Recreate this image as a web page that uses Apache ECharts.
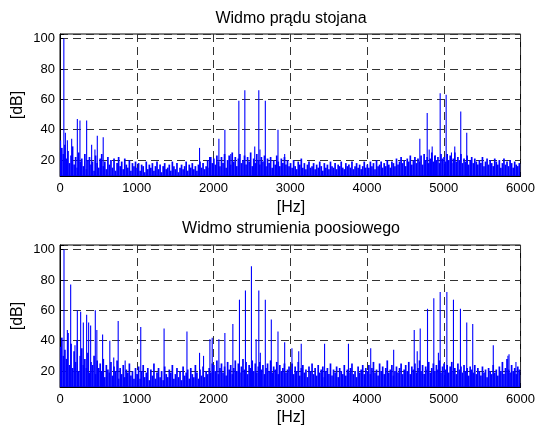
<!DOCTYPE html>
<html>
<head>
<meta charset="utf-8">
<script src="https://cdn.jsdelivr.net/npm/echarts@6/dist/echarts.min.js"></script>
<style>
  html, body { margin: 0; padding: 0; background: #fff; }
  #chart { width: 538px; height: 427px; }
</style>
</head>
<body>
<div id="chart"></div>
<script>
// widmo: szum w binach co 20 Hz + wyrazne prazki
var binStepHz = 20;
var xTicksHz = [0, 1000, 2000, 3000, 4000, 5000, 6000];
var yTicksDb = [20, 40, 60, 80, 100];

// Widmo pradu stojana - tlo szumowe [dB]
var noiseStator = [
  33, 28, 24, 30, 21, 26, 18, 23, 29, 17, 22, 15, 25, 19, 21, 16, 24, 14, 20, 22, 17, 19, 13, 23, 18, 15, 21, 24, 16, 19, 14, 22, 17, 20, 15, 21, 13, 18, 22, 16, 19, 14, 21, 17, 15, 20, 13, 18, 16, 19,
  15, 18, 13, 17, 16, 12, 19, 14, 17, 15, 18, 13, 16, 19, 14, 17, 12, 16, 18, 14, 15, 17, 13, 19, 16, 14, 18, 12, 15, 17, 14, 16, 19, 13, 17, 15, 18, 14, 16, 13, 17, 19, 15, 18, 14, 16, 20, 15, 22, 18,
  21, 17, 23, 19, 16, 22, 18, 24, 15, 20, 23, 17, 25, 19, 22, 16, 21, 24, 18, 20, 23, 17, 22, 19, 25, 16, 21, 18, 24, 20, 17, 22, 19, 23, 16, 21, 18, 22, 15, 20, 17, 23, 19, 16, 21, 18, 22, 17, 20, 16,
  18, 15, 20, 16, 14, 19, 17, 21, 15, 18, 14, 17, 19, 15, 16, 18, 14, 17, 15, 19, 16, 13, 18, 15, 17, 14, 19, 16, 15, 18, 14, 17, 16, 19, 15, 14, 18, 16, 17, 15, 19, 14, 16, 18, 15, 17, 14, 16, 19, 15,
  17, 15, 19, 16, 18, 14, 20, 16, 17, 19, 15, 18, 16, 20, 17, 15, 19, 18, 16, 21, 17, 19, 22, 18, 20, 16, 21, 19, 23, 17, 20, 22, 18, 21, 19, 23, 17, 24, 20, 22, 18, 21, 25, 19, 23, 20, 22, 18, 24, 21,
  22, 19, 24, 20, 23, 18, 21, 25, 19, 22, 20, 24, 18, 21, 19, 23, 17, 20, 22, 18, 21, 19, 17, 20, 18, 22, 16, 19, 21, 17, 20, 18, 16, 21, 19, 17, 20, 15, 18, 21, 17, 19, 16, 20, 18, 15, 19, 17, 16, 18
];
var peaksStatorHz = [50, 70, 96, 152, 226, 260, 347, 412, 455, 486, 563, 1818, 1948, 2070, 2148, 2225, 2330, 2408, 2537, 2590, 2605, 2675, 2840, 2927, 4688, 4784, 4810, 4849, 4890, 4953, 5031, 5100, 5143, 5221, 5299];
var peaksStatorDb = [100, 38, 33, 34, 47, 46, 46, 30, 27, 36, 35, 28, 22, 34, 40, 24, 59, 66, 29, 66, 27, 59, 40, 24, 34, 51, 27, 29, 23, 64, 63, 25, 29, 52, 38];

// Widmo strumienia poosiowego - tlo szumowe [dB]
var noiseFlux = [
  36, 42, 30, 34, 28, 45, 24, 38, 22, 33, 26, 40, 20, 30, 35, 24, 28, 22, 32, 19, 26, 24, 30, 18, 27, 22, 25, 20, 28, 16, 24, 21, 19, 26, 17, 23, 20, 27, 15, 22, 18, 24, 16, 21, 19, 25, 17, 20, 15, 22,
  18, 23, 15, 20, 24, 16, 19, 22, 14, 21, 17, 25, 15, 19, 22, 16, 20, 14, 23, 18, 16, 21, 19, 24, 15, 18, 22, 16, 20, 14, 23, 17, 19, 21, 15, 22, 18, 16, 24, 19, 15, 21, 17, 23, 16, 20, 18, 22, 19, 25,
  24, 20, 27, 18, 22, 25, 19, 23, 17, 26, 21, 24, 18, 22, 27, 20, 25, 19, 23, 28, 21, 26, 18, 24, 22, 27, 20, 25, 19, 23, 26, 21, 24, 18, 22, 25, 20, 27, 19, 23, 21, 26, 18, 24, 20, 22, 25, 19, 21, 23,
  21, 25, 18, 23, 20, 26, 17, 22, 24, 19, 21, 16, 23, 20, 25, 18, 22, 17, 24, 19, 21, 23, 16, 20, 22, 18, 25, 17, 21, 19, 23, 16, 22, 20, 18, 24, 17, 21, 19, 22, 25, 18, 20, 16, 23, 19, 21, 24, 18, 22,
  20, 24, 18, 22, 26, 19, 21, 17, 25, 20, 23, 18, 22, 27, 19, 21, 24, 17, 20, 23, 19, 22, 25, 18, 21, 24, 20, 26, 18, 23, 21, 25, 19, 22, 27, 20, 24, 18, 23, 21, 26, 19, 22, 25, 20, 24, 21, 27, 19, 23,
  25, 21, 24, 19, 23, 26, 20, 22, 18, 25, 21, 23, 19, 24, 20, 22, 17, 23, 21, 19, 24, 18, 22, 20, 17, 23, 19, 21, 16, 22, 20, 18, 24, 19, 21, 17, 23, 20, 26, 18, 22, 28, 21, 19, 24, 20, 22, 18, 23, 21
];
var peaksFluxHz = [20, 52, 96, 139, 195, 226, 269, 304, 347, 373, 399, 460, 480, 555, 649, 700, 758, 849, 1052, 1356, 1654, 1818, 1870, 1953, 1983, 2070, 2148, 2252, 2338, 2416, 2494, 2555, 2590, 2610, 2675, 2753, 2840, 2927, 3022, 3110, 3143, 3447, 3758, 4048, 4347, 4615, 4654, 4693, 4788, 4870, 4930, 4953, 5040, 5126, 5217, 5299, 5377, 5645, 5836, 5850, 5940];
var peaksFluxDb = [40, 100, 47, 77, 37, 60, 59, 52, 57, 52, 50, 60, 47, 44, 40, 29, 53, 27, 49, 48, 46, 32, 30, 41, 42, 41, 45, 51, 67, 73, 89, 41, 73, 32, 67, 54, 46, 39, 35, 33, 38, 38, 38, 35, 34, 47, 33, 48, 61, 68, 32, 72, 72, 67, 61, 52, 51, 37, 30, 31, 26];

function binsToPairs(vals) {
  return vals.map(function (v, i) { return [i * binStepHz, v]; });
}
function peaksToPairs(hz, db) {
  return hz.map(function (f, i) { return [f, db[i]]; });
}

var font = 'Liberation Sans, Arial, sans-serif';
var blue = '#0000ff';

function makeX(gridIndex) {
  return {
    type: 'value', gridIndex: gridIndex, min: 0, max: 6000, interval: 1000,
    axisLine: { lineStyle: { color: '#000', width: 1 } },
    axisTick: { inside: true, length: 4, lineStyle: { color: '#000' } },
    axisLabel: { color: '#000', fontSize: 13, fontFamily: font, margin: 6,
      formatter: function (v) { return xTicksHz.indexOf(v) >= 0 ? String(v) : ''; } },
    splitLine: { show: true, lineStyle: { color: '#333', type: [8, 5], width: 1 } }
  };
}
function makeY(gridIndex) {
  return {
    type: 'value', gridIndex: gridIndex, min: 9.5, max: 103, splitNumber: 5,
    axisLine: { show: true, lineStyle: { color: '#000', width: 1 } },
    axisTick: { show: true, inside: true, length: 4, lineStyle: { color: '#000' } },
    axisLabel: { color: '#000', fontSize: 13, fontFamily: font, margin: 5,
      formatter: function (v) { return yTicksDb.indexOf(v) >= 0 ? String(v) : ''; } },
    splitLine: { show: true, lineStyle: { color: '#333', type: [8, 5], width: 1 } }
  };
}
function barSeries(idx, data, w) {
  return {
    type: 'bar', xAxisIndex: idx, yAxisIndex: idx, data: data,
    barWidth: w, barGap: '-100%', clip: true, silent: true, animation: false,
    itemStyle: { color: blue }
  };
}

var chart = echarts.init(document.getElementById('chart'), null, { renderer: 'canvas' });
chart.setOption({
  animation: false,
  backgroundColor: '#fff',
  grid: [
    { left: 60, top: 34, width: 462, height: 142, show: true, borderColor: '#000', borderWidth: 1, backgroundColor: 'transparent' },
    { left: 60, top: 245, width: 462, height: 142, show: true, borderColor: '#000', borderWidth: 1, backgroundColor: 'transparent' }
  ],
  xAxis: [makeX(0), makeX(1)],
  yAxis: [makeY(0), makeY(1)],
  series: [
    barSeries(0, binsToPairs(noiseStator), 1.7),
    barSeries(0, peaksToPairs(peaksStatorHz, peaksStatorDb), 1.1),
    barSeries(1, binsToPairs(noiseFlux), 1.7),
    barSeries(1, peaksToPairs(peaksFluxHz, peaksFluxDb), 1.1)
  ],
  graphic: [
    { type: 'text', x: 291, y: 19, style: { text: 'Widmo prądu stojana', font: '16px ' + font, fill: '#000', align: 'center', verticalAlign: 'middle' } },
    { type: 'text', x: 291, y: 208, style: { text: '[Hz]', font: '16px ' + font, fill: '#000', align: 'center', verticalAlign: 'middle' } },
    { type: 'text', x: 291, y: 229, style: { text: 'Widmo strumienia poosiowego', font: '16px ' + font, fill: '#000', align: 'center', verticalAlign: 'middle' } },
    { type: 'text', x: 291, y: 418, style: { text: '[Hz]', font: '16px ' + font, fill: '#000', align: 'center', verticalAlign: 'middle' } },
    { type: 'text', x: 18, y: 105, rotation: Math.PI / 2, style: { text: '[dB]', font: '16px ' + font, fill: '#000', align: 'center', verticalAlign: 'middle' } },
    { type: 'text', x: 18, y: 316, rotation: Math.PI / 2, style: { text: '[dB]', font: '16px ' + font, fill: '#000', align: 'center', verticalAlign: 'middle' } }
  ]
});
</script>
</body>
</html>
